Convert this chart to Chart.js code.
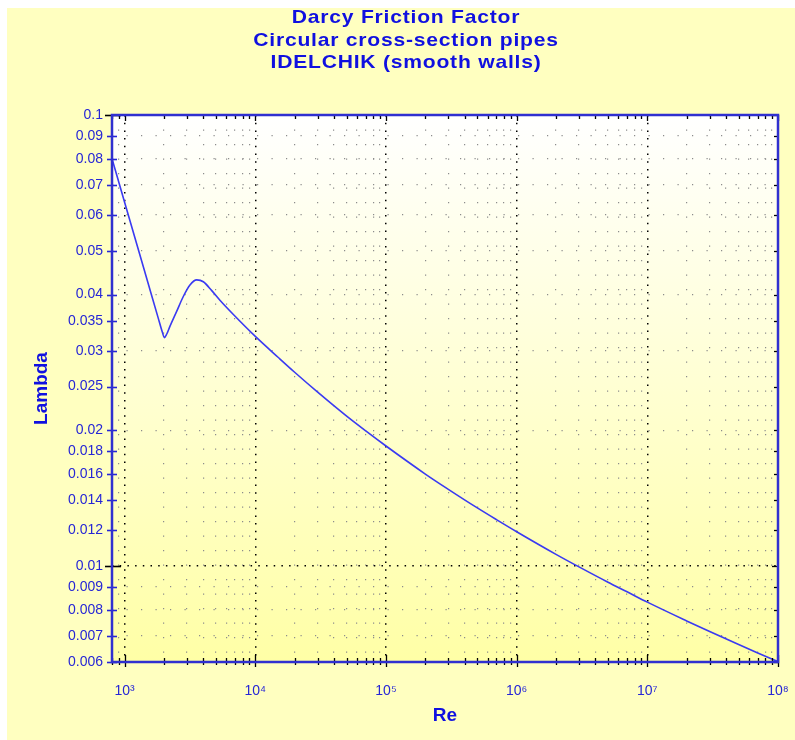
<!DOCTYPE html>
<html>
<head>
<meta charset="utf-8">
<script src="https://cdn.jsdelivr.net/npm/chart.js@4.4.1/dist/chart.umd.min.js"></script>
<style>
  html, body { margin: 0; padding: 0; background: #ffffff; }
</style>
</head>
<body>
<canvas id="myChart" width="795" height="740"></canvas>
<script>
// Reynolds numbers and friction factor
var reNumbers = [800, 1000, 1500, 1800, 1950, 2010, 2100, 2220, 2500, 2810, 3160, 3560, 4000, 4640, 5380,
  7000, 1e4, 1.5e4, 2e4, 3e4, 5e4, 7e4, 1e5, 2e5, 3e5, 5e5, 7e5, 1e6, 2e6, 3e6, 5e6, 7e6,
  1e7, 2e7, 3e7, 5e7, 7e7, 1e8];
var lambdaValues = [0.080, 0.064, 0.0427, 0.0356, 0.0329, 0.0321, 0.0327, 0.0340, 0.0367, 0.0396, 0.0420, 0.0431, 0.0427, 0.0408, 0.0388,
  0.0358, 0.0323, 0.0290, 0.0269, 0.0243, 0.0215, 0.01994, 0.01846, 0.0160, 0.0148, 0.01346, 0.01268, 0.01192, 0.01062, 0.00996, 0.00921, 0.00877,
  0.00832, 0.00756, 0.00716, 0.00670, 0.00642, 0.00614];

// axis ticks
var xDecades = [1e3, 1e4, 1e5, 1e6, 1e7, 1e8];
var xLabels = ["10\u00B3", "10\u2074", "10\u2075", "10\u2076", "10\u2077", "10\u2078"];
var yTickValues = [0.1, 0.09, 0.08, 0.07, 0.06, 0.05, 0.04, 0.035, 0.03, 0.025, 0.02, 0.018, 0.016, 0.014, 0.012,
  0.01, 0.009, 0.008, 0.007, 0.006];
var yLabels = ["0.1", "0.09", "0.08", "0.07", "0.06", "0.05", "0.04", "0.035", "0.03", "0.025", "0.02", "0.018", "0.016", "0.014", "0.012",
  "0.01", "0.009", "0.008", "0.007", "0.006"];
var yMajorGrid = [0.1, 0.01];
var yMinorGrid = [0.09, 0.08, 0.07, 0.06, 0.05, 0.04, 0.03, 0.02, 0.009, 0.008, 0.007];

var xMin = 800, xMax = 1e8, yMin = 0.00613, yMax = 0.1;

// minor positions 2..9 of every decade inside the range
var xTickValues = [];
for (var d = 100; d <= xMax; d *= 10) {
  for (var m = 1; m <= 9; m++) {
    var v = m * d;
    if (v >= xMin && v <= xMax) xTickValues.push(v);
  }
}

var BLUE = "#2626d6";
var FONT = "'Liberation Sans', Arial, sans-serif";

function near(a, b) { return Math.abs(a - b) / b < 1e-6; }
function isDecade(v) { return xDecades.some(function (d) { return near(v, d); }); }
function inList(v, list) { return list.some(function (d) { return near(v, d); }); }

var backdrop = {
  id: "backdrop",
  beforeDraw: function (chart) {
    var ctx = chart.ctx, a = chart.chartArea;
    ctx.save();
    ctx.fillStyle = "#ffffff";
    ctx.fillRect(0, 0, chart.width, chart.height);
    ctx.fillStyle = "#ffffc0";
    ctx.fillRect(7, 8, chart.width - 7, chart.height - 8);
    var g = ctx.createLinearGradient(0, a.top, 0, a.bottom);
    g.addColorStop(0, "#ffffff");
    g.addColorStop(1, "#ffffa6");
    ctx.fillStyle = g;
    ctx.fillRect(a.left, a.top, a.right - a.left, a.bottom - a.top);

    // title, a little wider than the plain font
    ctx.fillStyle = "#1010e0";
    ctx.font = "bold 19px " + FONT;
    ctx.letterSpacing = "0.7px";
    ctx.textAlign = "center";
    ctx.textBaseline = "middle";
    var titles = ["Darcy Friction Factor", "Circular cross-section pipes", "IDELCHIK (smooth walls)"];
    ctx.translate(406, 0);
    ctx.scale(1.11, 1);
    titles.forEach(function (t, i) { ctx.fillText(t, 0, 18 + i * 22.5); });
    ctx.restore();
  }
};

var frame = {
  id: "frame",
  afterDatasetsDraw: function (chart) {
    var ctx = chart.ctx, a = chart.chartArea;
    var xs = chart.scales.x, ys = chart.scales.y;
    ctx.save();
    // tick marks on bottom and top
    ctx.strokeStyle = "#000000";
    ctx.lineWidth = 1.3;
    xTickValues.forEach(function (v) {
      var px = Math.round(xs.getPixelForValue(v)) + 0.5;
      var big = isDecade(v);
      ctx.beginPath();
      ctx.moveTo(px, a.bottom - (big ? 7 : 4));
      ctx.lineTo(px, a.bottom + (big ? 5 : 3));
      ctx.moveTo(px, a.top);
      ctx.lineTo(px, a.top + (big ? 6 : 4));
      ctx.stroke();
    });
    // tick marks on left and right
    yTickValues.forEach(function (v) {
      var py = Math.round(ys.getPixelForValue(Math.max(v, yMin))) + 0.5;
      var big = inList(v, yMajorGrid);
      ctx.strokeStyle = big ? "#000000" : BLUE;
      ctx.lineWidth = 1.6;
      ctx.beginPath();
      ctx.moveTo(a.left - (big ? 7 : 5), py);
      ctx.lineTo(a.left + (big ? 9 : 5), py);
      ctx.stroke();
      ctx.strokeStyle = "#000000";
      ctx.lineWidth = 1.3;
      ctx.beginPath();
      ctx.moveTo(a.right - (big ? 6 : 4), py);
      ctx.lineTo(a.right, py);
      ctx.stroke();
    });
    // plot frame
    ctx.strokeStyle = "#3030d0";
    ctx.lineWidth = 2.5;
    ctx.strokeRect(a.left, a.top, a.right - a.left, a.bottom - a.top);
    ctx.restore();
  }
};

var ctx = document.getElementById("myChart").getContext("2d");
var myChart = new Chart(ctx, {
  type: "line",
  data: {
    datasets: [
      {
        data: reNumbers.map(function (r, i) { return { x: r, y: lambdaValues[i] }; }),
        borderColor: "#3a3af2",
        borderWidth: 1.6,
        pointRadius: 0,
        fill: false,
        cubicInterpolationMode: "monotone",
      },
    ],
  },
  options: {
    responsive: false,
    animation: false,
    layout: { padding: { left: 7, right: 17, top: 115, bottom: 0 } },
    plugins: {
      legend: { display: false },
      tooltip: { enabled: false },
    },
    scales: {
      x: {
        type: "logarithmic",
        min: xMin,
        max: xMax,
        afterBuildTicks: function (axis) {
          axis.ticks = xTickValues.map(function (v) { return { value: v }; });
        },
        afterFit: function (axis) {
          axis.height = 78;
          axis.paddingLeft = 0;
          axis.paddingRight = 0;
        },
        ticks: {
          autoSkip: false,
          maxRotation: 0,
          padding: 21,
          color: BLUE,
          font: { family: FONT, size: 14 },
          callback: function (value) {
            for (var i = 0; i < xDecades.length; i++) {
              if (near(value, xDecades[i])) return xLabels[i];
            }
            return "";
          },
        },
        grid: {
          drawTicks: false,
          color: function (c) { return isDecade(c.tick.value) ? "#000000" : "#8c8c8c"; },
          lineWidth: function (c) { return isDecade(c.tick.value) ? 1.5 : 1.2; },
        },
        border: {
          display: false,
          dash: function (c) { return isDecade(c.tick.value) ? [1.5, 6.2] : [1.2, 13.3]; },
        },
        title: {
          display: true,
          text: "Re",
          color: "#1010e0",
          font: { family: FONT, size: 19, weight: "bold" },
          padding: { top: 0, bottom: 13 },
        },
      },
      y: {
        type: "logarithmic",
        min: yMin,
        max: yMax,
        afterBuildTicks: function (axis) {
          axis.ticks = yTickValues.map(function (v) { return { value: Math.max(v, yMin) }; });
        },
        afterFit: function (axis) {
          axis.width = 105;
          axis.paddingTop = 0;
          axis.paddingBottom = 0;
        },
        ticks: {
          autoSkip: false,
          padding: 9,
          color: BLUE,
          font: { family: FONT, size: 14 },
          callback: function (value, index) { return yLabels[index]; },
        },
        grid: {
          drawTicks: false,
          color: function (c) {
            var v = c.tick.value;
            if (inList(v, yMajorGrid)) return "#000000";
            if (inList(v, yMinorGrid)) return "#8c8c8c";
            return "rgba(0,0,0,0)";
          },
          lineWidth: function (c) { return inList(c.tick.value, yMajorGrid) ? 1.5 : 1.2; },
        },
        border: {
          display: false,
          dash: function (c) { return inList(c.tick.value, yMajorGrid) ? [1.5, 6.2] : [1.2, 13.3]; },
        },
        title: {
          display: true,
          text: "Lambda",
          color: "#1010e0",
          font: { family: FONT, size: 19, weight: "bold" },
          padding: { top: 23, bottom: 0 },
        },
      },
    },
  },
  plugins: [backdrop, frame],
});
</script>
</body>
</html>
